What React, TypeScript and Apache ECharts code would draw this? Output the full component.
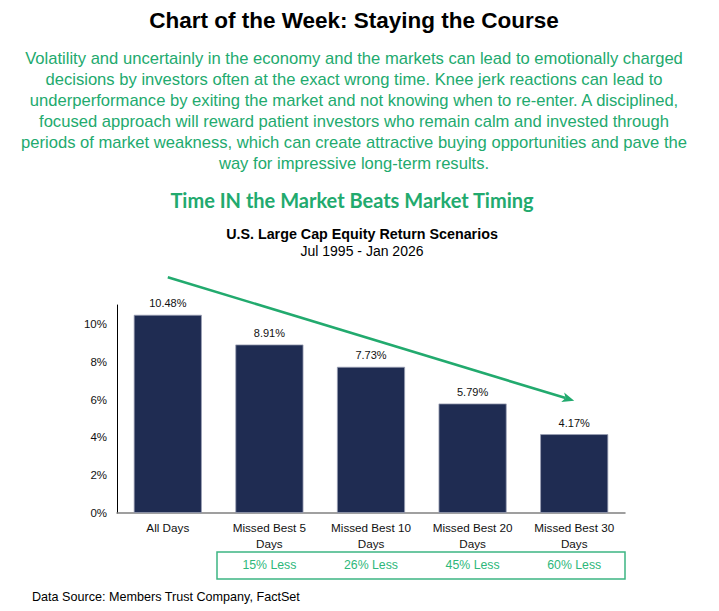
import React, { useEffect, useRef } from "react";
import * as echarts from "echarts";

const categories = ["All Days", "Missed Best 5\nDays", "Missed Best 10\nDays", "Missed Best 20\nDays", "Missed Best 30\nDays"];
const returns = [10.48, 8.91, 7.73, 5.79, 4.17];
const lessLabels = ["", "15% Less", "26% Less", "45% Less", "60% Less"];
const yTicks = { min: 0, max: 11, interval: 2 };
const trendStart = [0.05, 12.47];
const trendEnd = [4, 5.94];

const titleText = "Chart of the Week: Staying the Course";
const bodyLines = [
  "Volatility and uncertainly in the economy and the markets can lead to emotionally charged",
  "decisions by investors often at the exact wrong time. Knee jerk reactions can lead to",
  "underperformance by exiting the market and not knowing when to re-enter. A disciplined,",
  "focused approach will reward patient investors who remain calm and invested through",
  "periods of market weakness, which can create attractive buying opportunities and pave the",
  "way for impressive long-term results.",
];
const headline = "Time IN the Market Beats Market Timing";
const chartTitle = "U.S. Large Cap Equity Return Scenarios";
const chartSub = "Jul 1995 - Jan 2026";
const source = "Data Source: Members Trust Company, FactSet";

const GREEN = "#22AA6E";
const NAVY = "#1F2C52";

export default function App() {
  const ref = useRef<HTMLDivElement>(null);
  useEffect(() => {
    document.body.style.margin = "0";
    const chart = echarts.init(ref.current!, null, { renderer: "svg" });
    const font = "Liberation Sans, Arial, sans-serif";
    const baseGraphic: any[] = [
      {
        type: "text",
        x: 354,
        y: 20,
        style: { text: titleText, fill: "#000", font: `bold 22.5px ${font}`, align: "center", verticalAlign: "middle" },
      },
      {
        type: "text",
        x: 354,
        y: 48,
        style: {
          text: bodyLines.join("\n"),
          fill: GREEN,
          font: `16.6px ${font}`,
          lineHeight: 21,
          align: "center",
          verticalAlign: "top",
        },
      },
      {
        type: "text",
        x: 352,
        y: 200,
        style: { text: headline, fill: GREEN, font: `bold 20px Lato, "Open Sans", sans-serif`, align: "center", verticalAlign: "middle" },
      },
      {
        type: "text",
        x: 362,
        y: 234,
        style: { text: chartTitle, fill: "#000", font: `bold 14.3px ${font}`, align: "center", verticalAlign: "middle" },
      },
      {
        type: "text",
        x: 362,
        y: 251,
        style: { text: chartSub, fill: "#000", font: `14px ${font}`, align: "center", verticalAlign: "middle" },
      },
      {
        type: "rect",
        shape: { x: 217, y: 552, width: 408, height: 27 },
        style: { fill: "none", stroke: "#3DB583", lineWidth: 1.5 },
      },
      {
        type: "text",
        x: 32,
        y: 597,
        style: { text: source, fill: "#000", font: `12.6px ${font}`, align: "left", verticalAlign: "middle" },
      },
    ];
    chart.setOption({
      animation: false,
      backgroundColor: "#fff",
      textStyle: { fontFamily: font },
      grid: { left: 117, right: 94, top: 305, bottom: 98 },
      xAxis: [
        {
          type: "category",
          data: categories,
          axisLine: { lineStyle: { color: "#808080", width: 1.5 } },
          axisTick: { show: false },
          axisLabel: { color: "#111", fontSize: 11.7, lineHeight: 16, margin: 6, interval: 0, fontFamily: font },
        },
        {
          type: "category",
          data: lessLabels,
          position: "bottom",
          axisLine: { show: false },
          axisTick: { show: false },
          axisLabel: { color: "#2DB77A", fontSize: 12.3, margin: 46, interval: 0, fontFamily: font },
        },
      ],
      yAxis: {
        type: "value",
        min: yTicks.min,
        max: yTicks.max,
        interval: yTicks.interval,
        axisLine: { show: true, lineStyle: { color: "#000", width: 1 } },
        axisTick: { show: false },
        splitLine: { show: false },
        axisLabel: { formatter: "{value}%", color: "#111", fontSize: 11.5, margin: 10, showMaxLabel: false, fontFamily: font },
      },
      series: [
        {
          type: "bar",
          data: returns,
          barWidth: "67%",
          itemStyle: { color: NAVY, borderColor: "#9AA0B4", borderWidth: 0.8 },
          label: {
            show: true,
            position: "top",
            distance: 6,
            formatter: (p: any) => p.value.toFixed(2) + "%",
            color: "#111",
            fontSize: 11,
            fontFamily: font,
          },
        },
      ],
      graphic: baseGraphic,
    });

    const p0 = chart.convertToPixel({ gridIndex: 0 }, trendStart) as number[];
    const p1 = chart.convertToPixel({ gridIndex: 0 }, trendEnd) as number[];
    const dx = p1[0] - p0[0];
    const dy = p1[1] - p0[1];
    const len = Math.sqrt(dx * dx + dy * dy);
    const ux = dx / len;
    const uy = dy / len;
    const nx = -uy;
    const ny = ux;
    const headLen = 12;
    const headW = 5;
    const back = 3;
    const tip = p1;
    const baseX = tip[0] - ux * headLen;
    const baseY = tip[1] - uy * headLen;
    const notchX = tip[0] - ux * (headLen - back);
    const notchY = tip[1] - uy * (headLen - back);
    chart.setOption({
      graphic: [
        ...baseGraphic,
        {
          type: "line",
          shape: { x1: p0[0], y1: p0[1], x2: notchX, y2: notchY },
          style: { stroke: GREEN, lineWidth: 2.6 },
          silent: true,
        },
        {
          type: "polygon",
          shape: {
            points: [
              [tip[0], tip[1]],
              [baseX + nx * headW, baseY + ny * headW],
              [notchX, notchY],
              [baseX - nx * headW, baseY - ny * headW],
            ],
          },
          style: { fill: GREEN },
          silent: true,
        },
      ],
    });
    return () => chart.dispose();
  }, []);
  return <div ref={ref} style={{ width: 719, height: 611 }} />;
}
